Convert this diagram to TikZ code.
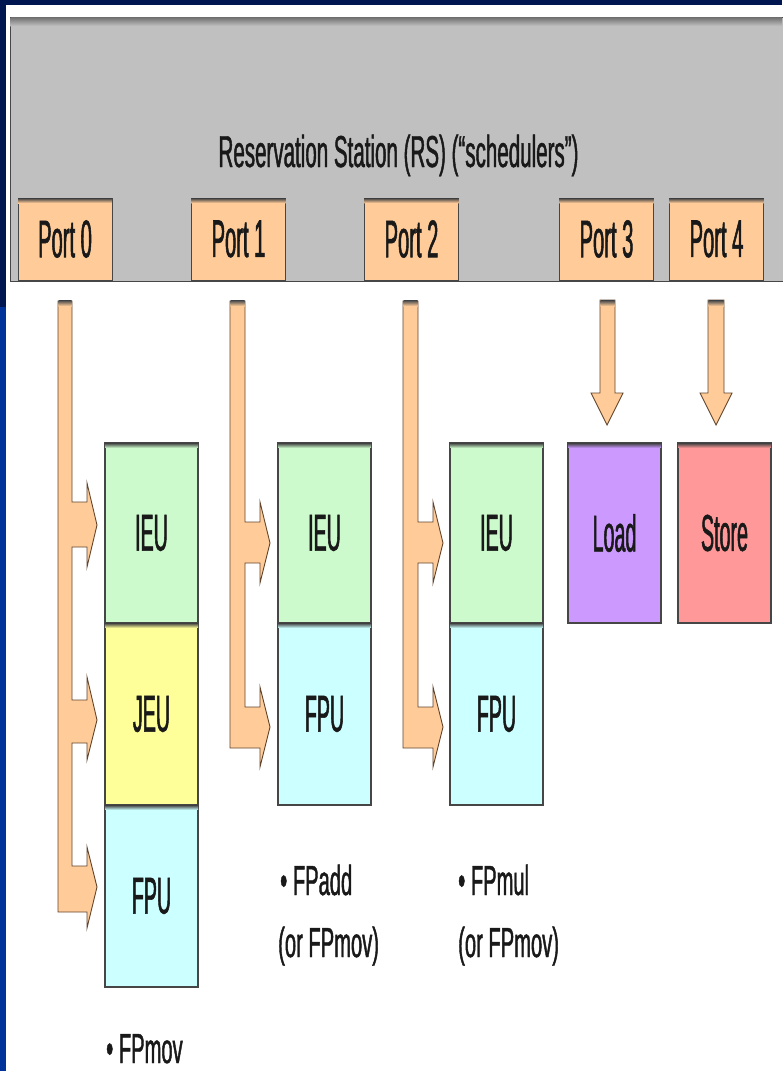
\documentclass[tikz,border=0pt]{standalone}
\usepackage{fontspec}
\newfontfamily\hdrfont[FakeStretch=0.46,FakeBold=1.0]{Liberation Sans}
\newfontfamily\boxfont[FakeStretch=0.38,FakeBold=1.0]{Liberation Sans}
\newfontfamily\lblfont[FakeStretch=0.48,FakeBold=1.0]{Liberation Sans}
\definecolor{navy}{RGB}{0,22,80}
\definecolor{slideblue}{RGB}{0,51,153}
\definecolor{rsgray}{RGB}{192,192,192}
\definecolor{portor}{RGB}{255,204,153}
\definecolor{ieugreen}{RGB}{204,250,204}
\definecolor{jeuyellow}{RGB}{255,255,153}
\definecolor{fpucyan}{RGB}{204,255,255}
\definecolor{loadpurple}{RGB}{204,153,255}
\definecolor{storepink}{RGB}{255,153,153}
\definecolor{txt}{RGB}{25,25,25}
\definecolor{edge}{RGB}{70,70,70}
\definecolor{arrowedge}{RGB}{100,70,45}
\tikzset{
  portbox/.style={draw=edge, line width=1pt, fill=portor, minimum width=94pt, minimum height=82pt,
    inner sep=0pt, text=txt, font=\boxfont\fontsize{53}{60}\selectfont},
  unitbox/.style={draw=edge, line width=1.2pt, minimum width=93pt, minimum height=180pt,
    inner sep=0pt, text=txt, font=\boxfont\fontsize{51.7}{60}\selectfont},
  lbl/.style={inner sep=0pt, text=txt, font=\lblfont\fontsize{42}{50}\selectfont},
  blockarrow/.style={fill=portor, draw=arrowedge, line width=0.9pt, line join=miter},
}
\newcommand{\topband}[2]{%
  \shade[top color=black!75, bottom color=#2] ([xshift=0.6pt,yshift=-0.6pt]#1.north west) rectangle ([xshift=-0.6pt,yshift=-5.5pt]#1.north east);}
\begin{document}
\begin{tikzpicture}[x=1pt,y=-1pt]
\useasboundingbox (0,0) rectangle (782,1071);
\fill[white] (0,0) rectangle (782,1071);
\fill[navy] (0,0) rectangle (782,5);
\fill[navy] (0,0) rectangle (6,307);
\fill[slideblue] (0,307) rectangle (6,1071);

% reservation station
\node[draw=edge, line width=1pt, fill=rsgray, minimum width=775pt, minimum height=264pt,
      inner sep=0pt, anchor=north west] (rs) at (10,17) {};
\shade[top color=black!55, bottom color=rsgray] (10.5,17.5) rectangle (782,26);
\node[inner sep=0pt, anchor=base, text=txt, font=\hdrfont\fontsize{44.7}{52}\selectfont]
  (rstext) at (398.5,167) {Reservation Station (RS) (“schedulers”)};

% ports
\node[portbox] (p0) at (65,239) {Port 0};
\node[portbox] (p1) at (238.5,239) {Port 1};
\node[portbox] (p2) at (411.5,239) {Port 2};
\node[portbox] (p3) at (606.5,239) {Port 3};
\node[portbox] (p4) at (716.5,239) {Port 4};
\foreach \n in {p0,p1,p2,p3,p4} {\topband{\n}{portor}}

% execution units
\node[unitbox, fill=ieugreen] (ieu0) at (151.5,533) {IEU};
\node[unitbox, fill=jeuyellow, minimum height=182pt] (jeu0) at (151.5,714) {JEU};
\node[unitbox, fill=fpucyan, minimum height=182pt] (fpu0) at (151.5,896) {FPU};
\node[unitbox, fill=ieugreen] (ieu1) at (324.5,533) {IEU};
\node[unitbox, fill=fpucyan, minimum height=182pt] (fpu1) at (324.5,714) {FPU};
\node[unitbox, fill=ieugreen] (ieu2) at (496.5,533) {IEU};
\node[unitbox, fill=fpucyan, minimum height=182pt] (fpu2) at (496.5,714) {FPU};
\node[unitbox, fill=loadpurple] (load) at (614.5,533) {Load};
\node[unitbox, fill=storepink] (store) at (724.5,533) {Store};
\topband{ieu0}{ieugreen}\topband{jeu0}{jeuyellow}\topband{fpu0}{fpucyan}
\topband{ieu1}{ieugreen}\topband{fpu1}{fpucyan}
\topband{ieu2}{ieugreen}\topband{fpu2}{fpucyan}
\topband{load}{loadpurple}\topband{store}{storepink}

% port 0 block arrow
\draw[blockarrow] (58,301) -- (72,301) -- (72,502) -- (87,502) -- (87,483) -- (97,525) -- (87,567) -- (87,547)
  -- (72,547) -- (72,700) -- (87,700) -- (87,677) -- (97,720) -- (87,760) -- (87,743)
  -- (72,743) -- (72,866) -- (87,866) -- (87,847) -- (97,887) -- (87,928) -- (87,912) -- (58,912) -- cycle;
% port 1 block arrow
\draw[blockarrow] (230,301) -- (245,301) -- (245,522) -- (260,522) -- (260,502) -- (270,543) -- (260,583) -- (260,563)
  -- (245,563) -- (245,707) -- (260,707) -- (260,687) -- (270,727) -- (260,767) -- (260,748) -- (230,748) -- cycle;
% port 2 block arrow
\draw[blockarrow] (403,301) -- (418,301) -- (418,522) -- (433,522) -- (433,502) -- (443,543) -- (433,583) -- (433,563)
  -- (418,563) -- (418,707) -- (433,707) -- (433,687) -- (443,727) -- (433,767) -- (433,748) -- (403,748) -- cycle;
% port 3 and 4 down arrows
\draw[blockarrow] (600,300) -- (615,300) -- (615,393) -- (623,393) -- (607,425) -- (591,393) -- (600,393) -- cycle;
\draw[blockarrow] (708,300) -- (724,300) -- (724,393) -- (732,393) -- (716,425) -- (700,393) -- (708,393) -- cycle;
% dark caps on the arrow tops
\foreach \a/\b in {58/72,230/245,403/418,600/615,708/724}
  \shade[top color=black!70, bottom color=portor] (\a+0.5,300.5) rectangle (\b-0.5,306);

% labels
\node[lbl, anchor=base west] (l0) at (106,1063) {• FPmov};
\node[lbl, anchor=base west] (l1a) at (280,895) {• FPadd};
\node[lbl, anchor=base west] (l1b) at (278,957) {(or FPmov)};
\node[lbl, anchor=base west] (l2a) at (458,895) {• FPmul};
\node[lbl, anchor=base west] (l2b) at (458,957) {(or FPmov)};
\end{tikzpicture}
\end{document}
